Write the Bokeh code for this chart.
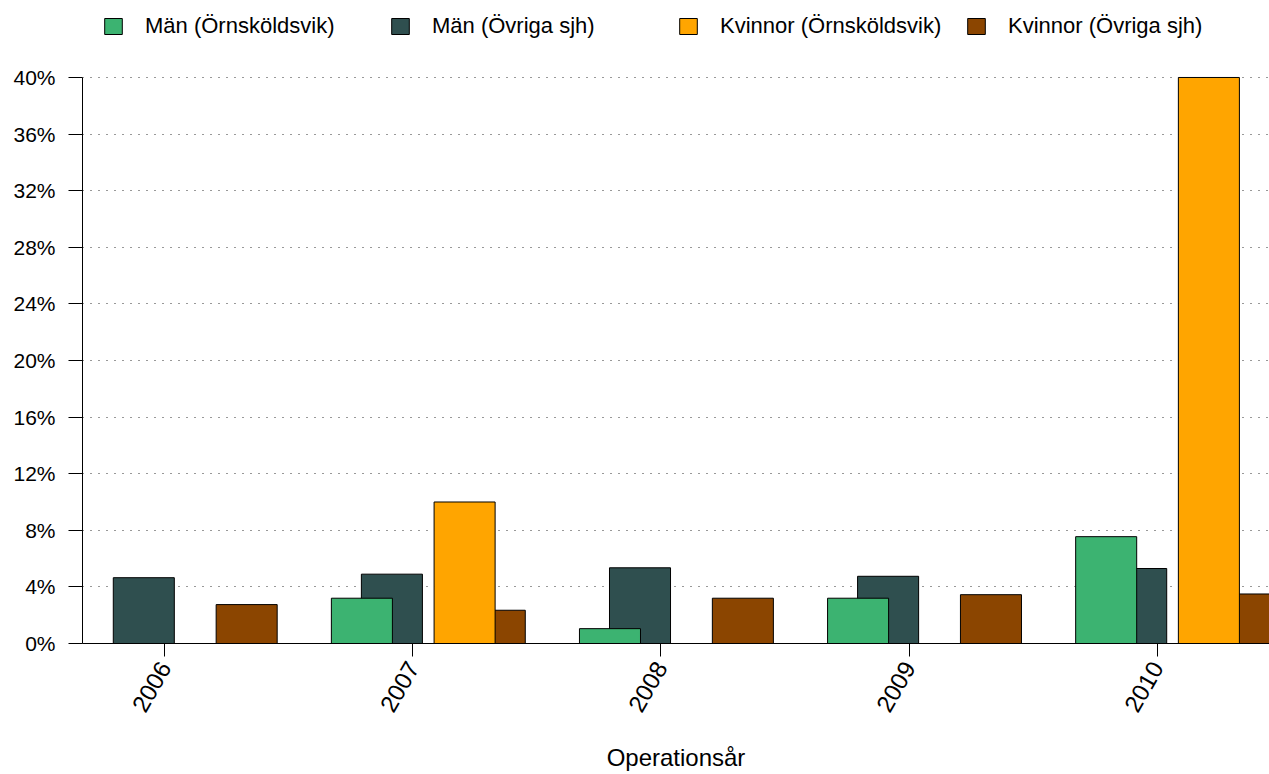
import math
from bokeh.plotting import figure
from bokeh.models import (Range1d, FixedTicker, PrintfTickFormatter, Legend,
                          LegendItem, ColumnDataSource)
from bokeh.transform import dodge
from bokeh.embed import file_html
from bokeh.resources import INLINE

# ---- data -------------------------------------------------------------
years = [2006, 2007, 2008, 2009, 2010]
man_ornskoldsvik = [0.0, 3.2, 1.05, 3.2, 7.55]
man_ovriga = [4.65, 4.9, 5.35, 4.75, 5.3]
kvinnor_ornskoldsvik = [0.0, 10.0, 0.0, 0.0, 40.0]
kvinnor_ovriga = [2.75, 2.35, 3.2, 3.45, 3.5]
series_labels = ["Män (Örnsköldsvik)", "Män (Övriga sjh)",
                 "Kvinnor (Örnsköldsvik)", "Kvinnor (Övriga sjh)"]
y_ticks = [0, 4, 8, 12, 16, 20, 24, 28, 32, 36, 40]
x_label = "Operationsår"

# ---- style ------------------------------------------------------------
colors = ["#3CB371", "#2F4F4F", "#FFA500", "#8B4500"]
offsets = [-0.2056, -0.0846, 0.2084, 0.330]
bar_w = 0.246
FONT = "Liberation Sans"

W, H = 1269, 774
p = figure(width=W, height=H, output_backend="svg", toolbar_location=None,
           x_range=Range1d(2005.6683, 2010.4527), y_range=Range1d(0, 45.44),
           min_border_left=82, min_border_right=0, min_border_top=0,
           min_border_bottom=131)
p.outline_line_color = None
p.background_fill_color = "white"
p.border_fill_color = "white"

src = ColumnDataSource(dict(
    x=years, s0=man_ornskoldsvik, s1=man_ovriga,
    s2=kvinnor_ornskoldsvik, s3=kvinnor_ovriga))

renderers = {}
for i in [1, 0, 3, 2]:
    r = p.vbar(x=dodge("x", offsets[i]), top="s%d" % i, bottom=0, width=bar_w,
               source=src, fill_color=colors[i], line_color="black",
               line_width=1)
    renderers[i] = r

# legends (one per item, placed like the original)
leg_x = [20, 307, 595, 883]
for i in range(4):
    lg = Legend(items=[LegendItem(label=series_labels[i], renderers=[renderers[i]])],
                location=(leg_x[i], 604), orientation="horizontal",
                glyph_width=22, glyph_height=20, label_standoff=21,
                label_height=20, padding=0, margin=0, spacing=0,
                border_line_alpha=0, background_fill_alpha=0,
                label_text_font=FONT, label_text_font_size="22px",
                label_text_color="black")
    p.add_layout(lg, "center")

# axes
xa = p.xaxis[0]
xa.ticker = FixedTicker(ticks=years)
xa.major_label_orientation = math.pi / 3
xa.major_tick_out = 13
xa.major_tick_in = 0
xa.minor_tick_line_color = None
xa.major_label_standoff = 7
xa.major_label_text_font = FONT
xa.major_label_text_font_size = "24px"
xa.major_label_text_color = "black"
xa.axis_label = x_label
xa.axis_label_text_font = FONT
xa.axis_label_text_font_size = "24px"
xa.axis_label_text_font_style = "normal"
xa.axis_label_text_color = "black"
xa.axis_label_standoff = 23
xa.axis_line_color = "black"
xa.major_tick_line_color = "black"

ya = p.yaxis[0]
ya.ticker = FixedTicker(ticks=y_ticks)
ya.formatter = PrintfTickFormatter(format="%d%%")
ya.bounds = (0, 40)
ya.major_tick_out = 14
ya.major_tick_in = 0
ya.minor_tick_line_color = None
ya.major_label_standoff = 13
ya.major_label_text_font = FONT
ya.major_label_text_font_size = "21px"
ya.major_label_text_color = "black"
ya.axis_line_color = "black"
ya.major_tick_line_color = "black"

p.xgrid.visible = False
p.ygrid.ticker = FixedTicker(ticks=y_ticks[1:])
p.ygrid.grid_line_color = "#333333"
p.ygrid.grid_line_dash = "1 7"
p.ygrid.grid_line_width = 1

open("out.html", "w", encoding="utf-8").write(file_html(p, INLINE))
